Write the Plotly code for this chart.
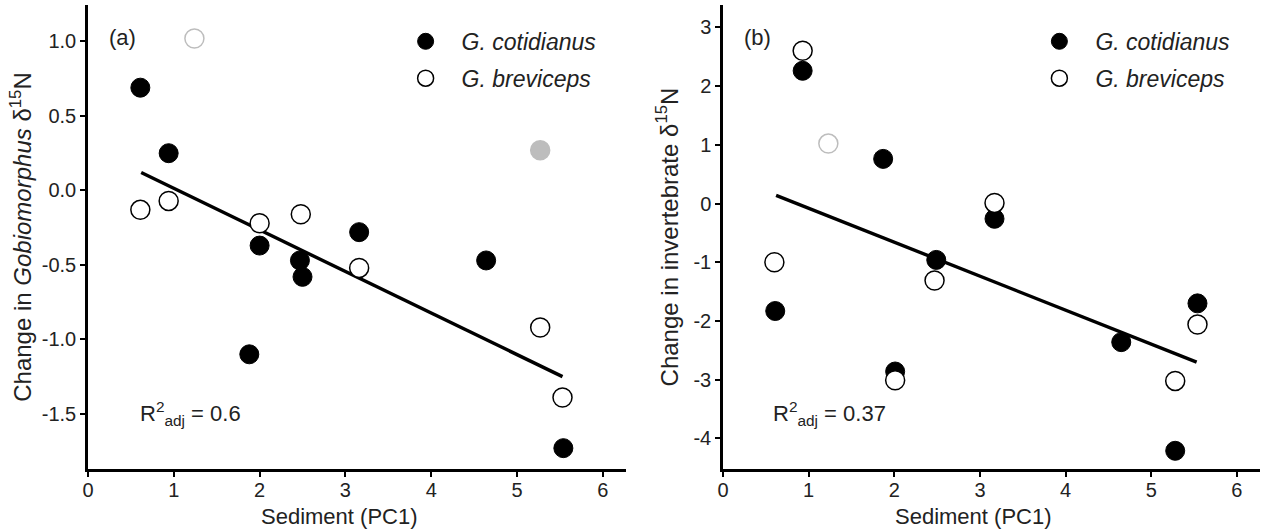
import plotly.graph_objects as go

# ---------------- data ----------------
# Panel (a): change in Gobiomorphus d15N vs sediment PC1
cot_x_a = [0.61, 0.94, 2.00, 2.47, 2.50, 3.16, 4.64, 1.88, 5.54]
cot_y_a = [0.69, 0.25, -0.37, -0.47, -0.58, -0.28, -0.47, -1.10, -1.73]
brev_x_a = [0.61, 0.94, 2.00, 2.48, 3.16, 5.27, 5.53]
brev_y_a = [-0.13, -0.07, -0.22, -0.16, -0.52, -0.92, -1.39]
cot_out_x_a = [5.27]
cot_out_y_a = [0.27]
brev_out_x_a = [1.24]
brev_out_y_a = [1.02]
fit_x_a = [0.62, 5.53]
fit_y_a = [0.12, -1.25]

# Panel (b): change in invertebrate d15N vs sediment PC1
cot_x_b = [0.93, 1.87, 3.17, 2.49, 0.61, 2.01, 4.65, 5.54, 5.28]
cot_y_b = [2.26, 0.76, -0.26, -0.96, -1.83, -2.86, -2.36, -1.70, -4.21]
brev_x_b = [0.93, 3.17, 0.60, 2.47, 2.01, 5.54, 5.28]
brev_y_b = [2.60, 0.01, -1.00, -1.31, -3.01, -2.06, -3.02]
brev_out_x_b = [1.23]
brev_out_y_b = [1.02]
fit_x_b = [0.62, 5.53]
fit_y_b = [0.14, -2.70]

xticks = [0, 1, 2, 3, 4, 5, 6]
yticks_a = [1.0, 0.5, 0.0, -0.5, -1.0, -1.5]
ytick_text_a = ["1.0", "0.5", "0.0", "-0.5", "-1.0", "-1.5"]
yticks_b = [3, 2, 1, 0, -1, -2, -3, -4]
ytick_text_b = ["3", "2", "1", "0", "-1", "-2", "-3", "-4"]

names = ["<i>G. cotidianus</i>", "<i>G. breviceps</i>"]
x_title = "Sediment (PC1)"
y_title_a = "Change in <i>Gobiomorphus</i> δ<sup>15</sup>N"
y_title_b = "Change in invertebrate δ<sup>15</sup>N"
r2_a = "R<sup>2</sup><sub>adj</sub> = 0.6"
r2_b = "R<sup>2</sup><sub>adj</sub> = 0.37"

# ---------------- style ----------------
FONT = "Liberation Sans, Arial, sans-serif"
MS = 19
GREY = "#bdbdbd"

fig = go.Figure()

def add_panel(xa, ya, leg, cx, cy, bx, by, fx, fy, outs):
    fig.add_trace(go.Scatter(x=fx, y=fy, mode="lines", line=dict(color="black", width=3.4),
                             showlegend=False, xaxis=xa, yaxis=ya, hoverinfo="skip"))
    for (ox, oy, filled) in outs:
        fig.add_trace(go.Scatter(
            x=ox, y=oy, mode="markers", showlegend=False, xaxis=xa, yaxis=ya,
            marker=dict(size=MS, color=GREY if filled else "white",
                        line=dict(color=GREY, width=1.5))))
    fig.add_trace(go.Scatter(x=cx, y=cy, mode="markers", name=names[0], legend=leg,
                             legendgroup=leg + "c", xaxis=xa, yaxis=ya,
                             marker=dict(size=MS, color="black", line=dict(color="black", width=1))))
    fig.add_trace(go.Scatter(x=bx, y=by, mode="markers", name=names[1], legend=leg,
                             legendgroup=leg + "b", xaxis=xa, yaxis=ya,
                             marker=dict(size=MS, color="white", line=dict(color="black", width=1.5))))

add_panel("x", "y", "legend", cot_x_a, cot_y_a, brev_x_a, brev_y_a, fit_x_a, fit_y_a,
          [(cot_out_x_a, cot_out_y_a, True), (brev_out_x_a, brev_out_y_a, False)])
add_panel("x2", "y2", "legend2", cot_x_b, cot_y_b, brev_x_b, brev_y_b, fit_x_b, fit_y_b,
          [(brev_out_x_b, brev_out_y_b, False)])

W, H = 1265, 529
dom_a = [88 / W, 626 / W]
dom_b = [723 / W, 1260 / W]

axis_common = dict(showline=True, linecolor="black", linewidth=2.5, ticks="outside",
                   ticklen=5, tickwidth=1.5, tickcolor="black", showgrid=False,
                   zeroline=False, mirror=False, automargin=False,
                   tickfont=dict(family=FONT, size=20, color="#222"))

xa_common = dict(axis_common, tickvals=xticks, range=[0, 6.27], ticklabelstandoff=-4)

legend_common = dict(font=dict(family=FONT, size=23, color="#222"), bgcolor="rgba(0,0,0,0)",
                     itemwidth=62, tracegroupgap=4, traceorder="grouped",
                     xanchor="left", yanchor="top", itemsizing="trace")

fig.update_layout(
    width=W, height=H,
    margin=dict(l=0, r=0, t=5, b=60),
    paper_bgcolor="white", plot_bgcolor="white",
    font=dict(family=FONT, color="#222"),
    xaxis=dict(xa_common, domain=dom_a, anchor="y"),
    xaxis2=dict(xa_common, domain=dom_b, anchor="y2"),
    yaxis=dict(axis_common, domain=[0, 1], anchor="x", range=[-1.87, 1.245],
               tickvals=yticks_a, ticktext=ytick_text_a,
               title=dict(text=y_title_a, font=dict(family=FONT, size=24, color="#222"), standoff=4)),
    yaxis2=dict(axis_common, domain=[0, 1], anchor="x2", range=[-4.52, 3.38],
                tickvals=yticks_b, ticktext=ytick_text_b,
                title=dict(text=y_title_b, font=dict(family=FONT, size=24, color="#222"), standoff=9)),
    legend=dict(legend_common, x=0.308, y=0.968),
    legend2=dict(legend_common, x=0.809, y=0.968),
)

ann_font = dict(family=FONT, size=22, color="#222")
# x-axis titles
for xr in ("x", "x2"):
    fig.add_annotation(text=x_title, xref=xr, yref="paper", x=2.93, y=-0.103,
                       xanchor="center", yanchor="middle", showarrow=False, font=ann_font)
fig.add_annotation(text="(a)", xref="x domain", yref="y domain", x=0.065, y=0.929,
                   xanchor="center", yanchor="middle", showarrow=False, font=ann_font)
fig.add_annotation(text="(b)", xref="x2 domain", yref="y2 domain", x=0.065, y=0.929,
                   xanchor="center", yanchor="middle", showarrow=False, font=ann_font)
fig.add_annotation(text=r2_a, xref="x domain", yref="y domain", x=0.093, y=0.12,
                   xanchor="left", yanchor="middle", showarrow=False, font=ann_font)
fig.add_annotation(text=r2_b, xref="x2 domain", yref="y2 domain", x=0.089, y=0.12,
                   xanchor="left", yanchor="middle", showarrow=False, font=ann_font)

fig.write_html("out.html")
